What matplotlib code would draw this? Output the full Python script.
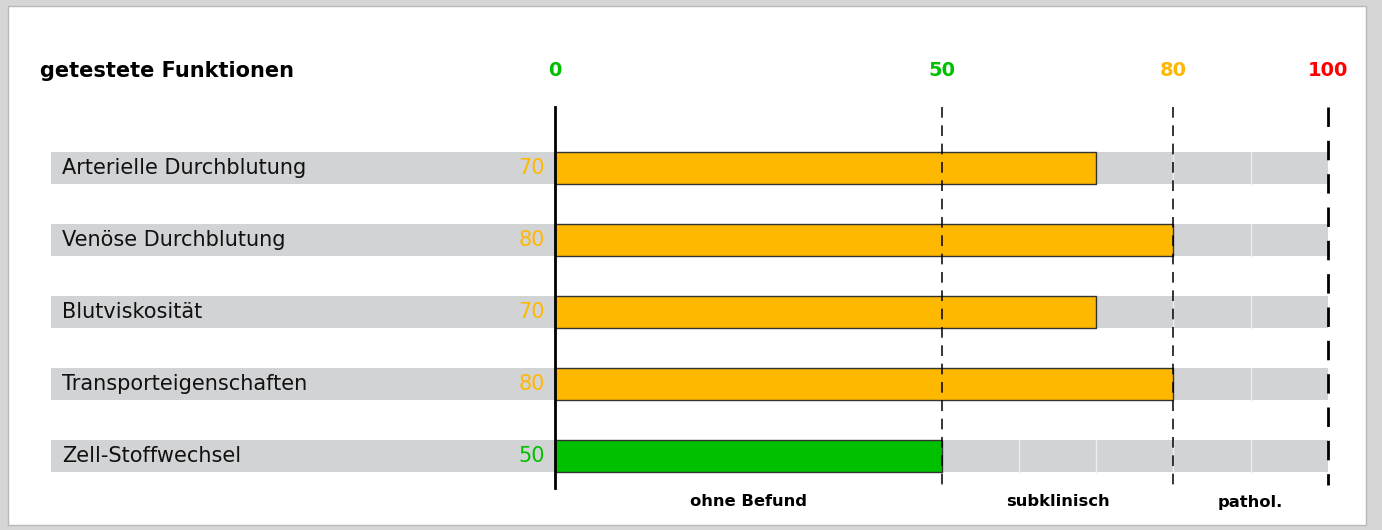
#!/usr/bin/env python3
# -*- coding: utf-8 -*-
"""
Balkendiagramm: getestete Funktionen mit Bewertung 0-100
"""
import matplotlib
matplotlib.use('Agg')
import matplotlib.pyplot as plt
from matplotlib.patches import Rectangle

# Daten
funktionen = [
    'Arterielle Durchblutung',
    'Venöse Durchblutung',
    'Blutviskosität',
    'Transporteigenschaften',
    'Zell-Stoffwechsel',
]
werte = [70, 80, 70, 80, 50]
skala = [0, 50, 80, 100]
skala_farben = ['#00c000', '#00c000', '#ffb800', '#ff0000']
bereiche = ['ohne Befund', 'subklinisch', 'pathol.']

ORANGE = '#ffb800'
GRUEN = '#00c000'
GRAU = '#d2d3d5'


def farbe(v):
    return GRUEN if v <= 50 else ORANGE


W, H = 1382, 530
fig = plt.figure(figsize=(W / 100, H / 100), dpi=100)
fig.patch.set_facecolor('#d6d6d6')

# weisses Panel
fig.patches.append(Rectangle((8 / W, 1 - 525 / H), (1366 - 8) / W, (525 - 6) / H,
                             transform=fig.transFigure, facecolor='white',
                             edgecolor='#b8b8b8', linewidth=1, zorder=-1))

ax = fig.add_axes([0, 0, 1, 1])
ax.set_axis_off()
ax.patch.set_alpha(0)

# Pixel -> Datenkoordinaten: x = 555 px bei 0, 7.73 px pro Einheit
x0, px = 555, 7.73
ax.set_xlim(-x0 / px, (W - x0) / px)
y0, dy = 168, 72
ax.set_ylim((H - y0) / dy, -y0 / dy)

links = (51 - x0) / px
h = 32 / dy

for i, (name, v) in enumerate(zip(funktionen, werte)):
    # grauer Hintergrund
    ax.barh(i, 100 - links, left=links, height=h, color=GRAU, zorder=1)
    # weisse Gitterlinien
    for g in range(10, 100, 10):
        ax.plot([g, g], [i - h / 2, i + h / 2], color='#eeeeee', lw=1, zorder=2)
    ax.barh(i, v, left=0, height=h, color=farbe(v), edgecolor='#333333',
            linewidth=1, zorder=3)
    ax.text((62 - x0) / px, i, name, ha='left', va='center', fontsize=15,
            color='#111111', zorder=4)
    ax.text((545 - x0) / px, i, str(v), ha='right', va='center', fontsize=15,
            color=farbe(v), zorder=4)

# Achse und Grenzlinien
y_oben = (107 - y0) / dy
y_unten = (488 - y0) / dy
ax.plot([0, 0], [y_oben, y_unten], color='black', lw=2, zorder=5)
for s, lw in zip(skala[1:], [1.1, 1.1, 2.0]):
    ax.plot([s, s], [y_oben, (485 - y0) / dy], color='black', lw=lw,
            linestyle=(0, (7, 5)), zorder=5)

# Kopfzeile
y_kopf = (71 - y0) / dy
ax.text((40 - x0) / px, y_kopf, 'getestete Funktionen', ha='left', va='center',
        fontsize=15, fontweight='bold', color='black')
for s, c in zip(skala, skala_farben):
    ax.text(s, y_kopf, str(s), ha='center', va='center', fontsize=14,
            fontweight='bold', color=c)

# Bereiche unten
y_fuss = (502 - y0) / dy
grenzen = [0] + skala[1:]
for lab, a, b in zip(bereiche, grenzen[:-1], grenzen[1:]):
    ax.text((a + b) / 2, y_fuss, lab, ha='center', va='center', fontsize=11.8,
            fontweight='bold', color='black')

fig.savefig('out.png', dpi=100)
